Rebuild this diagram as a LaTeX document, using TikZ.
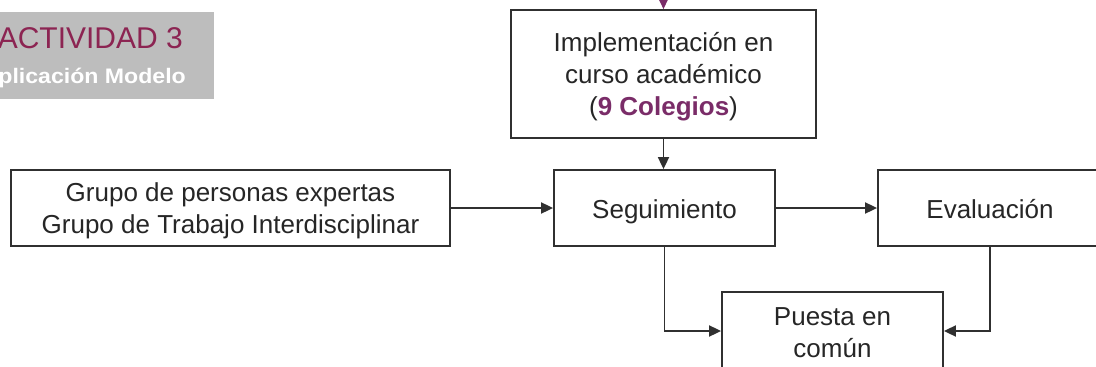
\documentclass[tikz,border=0pt]{standalone}
\usepackage{fontspec}
\setmainfont{Liberation Sans}
\newfontfamily\titlefont{Liberation Sans}
\usetikzlibrary{arrows.meta}
\definecolor{boxline}{HTML}{303030}
\definecolor{txt}{HTML}{262626}
\definecolor{plum}{HTML}{7A2C68}
\definecolor{titlemag}{HTML}{8C2452}
\definecolor{titlegray}{HTML}{BDBDBD}
\tikzset{
  stepbox/.style={draw=boxline, line width=1.8pt, fill=white, inner sep=0pt},
  steptext/.style={align=center, text=txt, font=\fontsize{26}{32}\selectfont, inner sep=0pt},
  oneline/.style={steptext, text height=19pt, text depth=6pt, yshift=-3.5pt},
  arr/.style={draw=boxline, line width=1.8pt, -{Triangle[length=12pt,width=11pt]}},
}
\begin{document}
\begin{tikzpicture}[x=1pt,y=-1pt]
\useasboundingbox (0,0) rectangle (1096,367);
\clip (0,0) rectangle (1096,367);
% title panel
\node[fill=titlegray, minimum width=224pt, minimum height=87pt, inner sep=0pt] (panel) at (102,55.5) {};
\node[anchor=base east, inner sep=0pt, text=titlemag, font=\titlefont\fontsize{30}{32}\selectfont] (t1) at (183,48) {ACTIVIDAD 3};
\node[anchor=base east, inner sep=0pt, text=white, font=\titlefont\bfseries\fontsize{21}{24}\selectfont\addfontfeature{FakeStretch=1.1}] (t2) at (186,83) {Aplicación Modelo};
% boxes
\node[stepbox, minimum width=305pt, minimum height=128pt,
  label={[steptext, yshift=-3pt]center:{Implementación en\\curso académico\\ (\textcolor{plum}{\textbf{9 Colegios}})}}] (impl) at (663.5,74) {};
\node[stepbox, minimum width=221pt, minimum height=76pt,
  label={[oneline]center:Seguimiento}] (seg) at (664.5,208) {};
\node[stepbox, minimum width=439pt, minimum height=76pt,
  label={[steptext, yshift=-3pt]center:{Grupo de personas expertas\\Grupo de Trabajo Interdisciplinar}}] (grupo) at (230.5,208) {};
\node[stepbox, minimum width=224pt, minimum height=76pt,
  label={[oneline]center:Evaluación}] (eval) at (990,208) {};
\node[stepbox, minimum width=221pt, minimum height=78pt,
  label={[steptext, yshift=-2pt]center:{Puesta en\\común}}] (puesta) at (832.5,331) {};
% connectors
\coordinate (topin) at (663,-40);
\draw[draw=plum, line width=1.8pt, -{Triangle[length=14pt,width=13pt]}] (topin) -- (impl.north);
\draw[arr] (impl.south) -- (impl.south |- seg.north);
\draw[arr] (grupo.east) -- (seg.west);
\draw[arr] (seg.east) -- (eval.west);
\draw[arr] (seg.south) |- (puesta.west);
\draw[arr] (eval.south) |- (puesta.east);
\end{tikzpicture}
\end{document}
